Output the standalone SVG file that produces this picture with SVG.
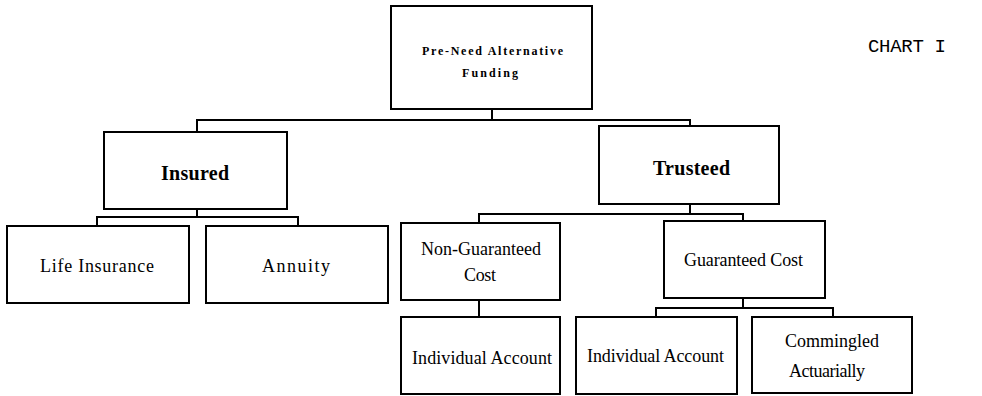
<svg xmlns="http://www.w3.org/2000/svg" width="982" height="396" viewBox="0 0 982 396">
<style>
.box{fill:#fff;stroke:#000;stroke-width:2}
.ln{fill:none;stroke:#000;stroke-width:2}
.t{font-family:"Liberation Serif",serif;fill:#000;text-anchor:middle;font-size:18px}
.b{font-weight:bold}
.h{font-size:20px}
.s{font-size:12px}
.m{font-family:"Liberation Mono",monospace;fill:#000;font-size:19px;text-anchor:middle}
</style>
<rect width="982" height="396" fill="#fff"/>
<g id="connectors">
<path class="ln" d="M492,109V120M197,132V120H690V126"/>
<path class="ln" d="M197,209V217M97,226V217H298V226"/>
<path class="ln" d="M690,204V214M479,223V214H743V221"/>
<path class="ln" d="M479,300V317"/>
<path class="ln" d="M743,298V308M656,317V308H833V317"/>
</g>
<g id="root"><rect class="box" x="391" y="6" width="201" height="103"/>
<text class="t b s" x="492.5" y="55" textLength="141">Pre-Need Alternative</text>
<text class="t b s" x="490" y="77" textLength="56">Funding</text></g>
<g id="insured"><rect class="box" x="104" y="132" width="183" height="77"/>
<text class="t b h" x="195" y="180" textLength="68">Insured</text></g>
<g id="trusteed"><rect class="box" x="599" y="126" width="180" height="78"/>
<text class="t b h" x="691.5" y="175" textLength="77">Trusteed</text></g>
<g id="life"><rect class="box" x="7" y="226" width="182" height="77"/>
<text class="t" x="97" y="272" textLength="114">Life Insurance</text></g>
<g id="annuity"><rect class="box" x="206" y="226" width="182" height="77"/>
<text class="t" x="296" y="272" textLength="68">Annuity</text></g>
<g id="nonguar"><rect class="box" x="401" y="223" width="159" height="77"/>
<text class="t" x="481" y="255" textLength="120">Non-Guaranteed</text>
<text class="t" x="480" y="281" textLength="32">Cost</text></g>
<g id="guar"><rect class="box" x="664" y="221" width="161" height="77"/>
<text class="t" x="743.5" y="266" textLength="119">Guaranteed Cost</text></g>
<g id="ind1"><rect class="box" x="401" y="317" width="159" height="77"/>
<text class="t" x="482" y="364" textLength="140">Individual Account</text></g>
<g id="ind2"><rect class="box" x="576" y="317" width="161" height="77"/>
<text class="t" x="655.5" y="362" textLength="137">Individual Account</text></g>
<g id="comm"><rect class="box" x="752" y="317" width="160" height="76"/>
<text class="t" x="832" y="347" textLength="94">Commingled</text>
<text class="t" x="827" y="377" textLength="76">Actuarially</text></g>
<text class="m" x="907" y="52" textLength="78">CHART I</text>
</svg>
